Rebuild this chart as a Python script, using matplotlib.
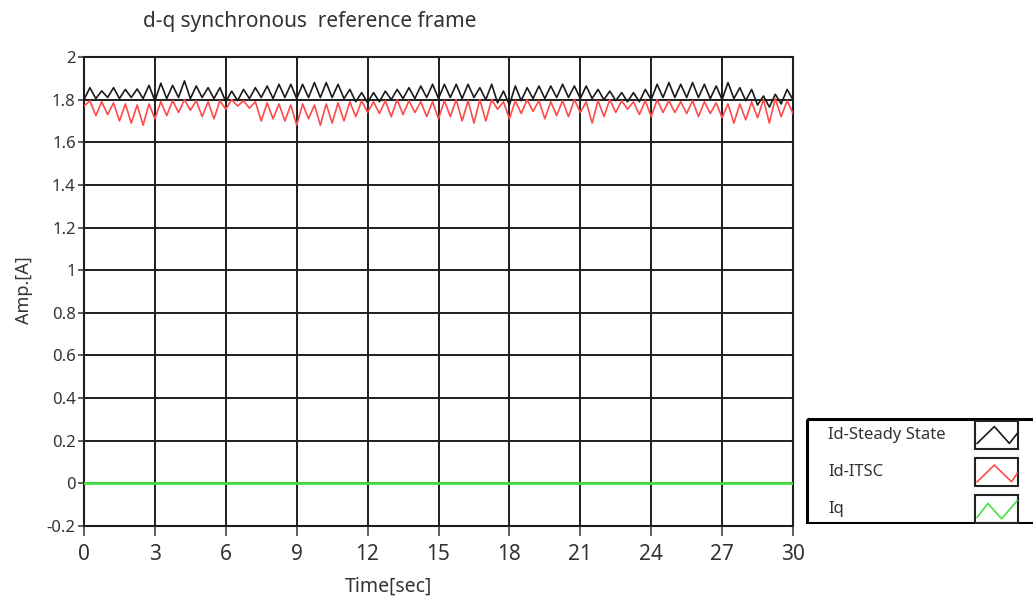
import numpy as np
import matplotlib
matplotlib.use('Agg')
import matplotlib.pyplot as plt
from matplotlib import font_manager
from matplotlib.patches import Rectangle

# Values (Amp.[A]), one sample every 0.25 s
# troughs at t = 0, 0.5, 1.0 ... ; peaks at t = 0.25, 0.75, ...
id_ss_trough = [1.80, 1.805, 1.81, 1.805, 1.81, 1.805, 1.795, 1.805, 1.81, 1.805, 1.81,
                1.805, 1.79, 1.795, 1.805, 1.81, 1.805, 1.81, 1.805, 1.81, 1.81,
                1.81, 1.805, 1.79, 1.785, 1.79, 1.80, 1.805, 1.805, 1.81, 1.805,
                1.81, 1.805, 1.81, 1.80, 1.785, 1.775, 1.795, 1.805, 1.805, 1.81,
                1.81, 1.805, 1.805, 1.80, 1.795, 1.79, 1.79, 1.80, 1.81, 1.81,
                1.81, 1.81, 1.805, 1.80, 1.805, 1.795, 1.775, 1.765, 1.78, 1.80]
id_ss_peak = [1.856, 1.841, 1.856, 1.848, 1.85, 1.867, 1.877, 1.867, 1.888, 1.864,
              1.856, 1.856, 1.84, 1.848, 1.856, 1.864, 1.872, 1.872, 1.872, 1.88,
              1.88, 1.872, 1.848, 1.833, 1.833, 1.84, 1.848, 1.856, 1.864, 1.872,
              1.872, 1.872, 1.872, 1.856, 1.872, 1.84, 1.864, 1.856, 1.864, 1.864,
              1.872, 1.864, 1.864, 1.848, 1.84, 1.833, 1.833, 1.848, 1.872, 1.88,
              1.872, 1.88, 1.872, 1.864, 1.88, 1.856, 1.848, 1.817, 1.825, 1.848]
id_itsc_trough = [1.77, 1.725, 1.73, 1.70, 1.69, 1.68, 1.71, 1.725, 1.74, 1.75, 1.72,
                  1.71, 1.755, 1.77, 1.76, 1.70, 1.71, 1.70, 1.68, 1.71, 1.68,
                  1.69, 1.70, 1.72, 1.74, 1.735, 1.72, 1.73, 1.74, 1.72, 1.71,
                  1.72, 1.70, 1.69, 1.70, 1.755, 1.71, 1.735, 1.745, 1.71, 1.725,
                  1.72, 1.74, 1.69, 1.72, 1.74, 1.755, 1.73, 1.72, 1.74, 1.74,
                  1.735, 1.72, 1.735, 1.715, 1.69, 1.705, 1.715, 1.69, 1.72, 1.735]
id_itsc_peak = [1.795, 1.79, 1.785, 1.78, 1.775, 1.78, 1.79, 1.795, 1.80, 1.795,
                1.79, 1.795, 1.80, 1.795, 1.79, 1.785, 1.78, 1.775, 1.78, 1.775,
                1.78, 1.785, 1.79, 1.795, 1.79, 1.795, 1.80, 1.795, 1.79, 1.79,
                1.795, 1.80, 1.795, 1.80, 1.80, 1.79, 1.795, 1.80, 1.795, 1.79,
                1.795, 1.80, 1.79, 1.795, 1.80, 1.795, 1.79, 1.795, 1.80, 1.795,
                1.79, 1.795, 1.79, 1.785, 1.78, 1.78, 1.79, 1.80, 1.805, 1.795]
iq_time = [0, 30]
iq = [0.0, 0.0]

x_ticks = [0, 3, 6, 9, 12, 15, 18, 21, 24, 27, 30]
y_ticks = [2, 1.8, 1.6, 1.4, 1.2, 1, 0.8, 0.6, 0.4, 0.2, 0, -0.2]
y_tick_labels = ['2', '1.8', '1.6', '1.4', '1.2', '1', '0.8', '0.6', '0.4', '0.2', '0', '-0.2']
legend_labels = ['Id-Steady State', 'Id-ITSC', 'Iq']


def interleave(troughs, peaks):
    out = []
    for i in range(len(peaks)):
        out += [troughs[i], peaks[i]]
    out.append(troughs[-1])
    return np.array(out)


id_ss = interleave(id_ss_trough, id_ss_peak)
id_itsc = interleave(id_itsc_trough, id_itsc_peak)
time = np.arange(len(id_ss)) * 0.25

names = {f.name for f in font_manager.fontManager.ttflist}
txt_font = 'Noto Sans' if 'Noto Sans' in names else 'DejaVu Sans'
num_font = 'Liberation Sans Narrow' if 'Liberation Sans Narrow' in names else txt_font

c_black = '#1a1a1a'
c_red = '#ff4a4a'
c_green = '#44e044'
c_text = '#333333'

fig = plt.figure(figsize=(10.33, 5.99), dpi=100)
ax = fig.add_axes([84/1033, 1-526/599, 709/1033, 469/599])

ax.plot(time, id_ss, color=c_black, lw=1.2, zorder=4, solid_joinstyle='round')
ax.plot(time, id_itsc, color=c_red, lw=1.2, zorder=3, solid_joinstyle='round')
ax.plot(iq_time, iq, color=c_green, lw=2, zorder=3)

ax.set_xlim(0, 30)
ax.set_ylim(-0.2, 2)
ax.set_xticks(x_ticks)
ax.set_xticklabels([str(v) for v in x_ticks], fontsize=15, family=num_font, color=c_text)
ax.set_yticks(y_ticks)
ax.set_yticklabels(y_tick_labels, fontsize=12, family=txt_font, color=c_text)
ax.grid(True, color='#1e1e1e', lw=1.4, zorder=1)
ax.set_axisbelow(True)
for s in ax.spines.values():
    s.set_color('#1e1e1e')
    s.set_linewidth(1.5)
ax.tick_params(axis='y', length=4, width=1.2, color='#444444', pad=2)
ax.tick_params(axis='x', length=7, width=1.2, color='#444444', pad=6)

fig.text(388/1033, 1-587/599, 'Time[sec]', fontsize=14, family=txt_font,
         color=c_text, ha='center', va='center')
fig.text(24/1033, 1-290/599, 'Amp.[A]', fontsize=13, family=txt_font,
         color=c_text, ha='center', va='center', rotation=90)
fig.text(143/1033, 1-22/599, 'd-q synchronous  reference frame', fontsize=15,
         family=txt_font, color=c_text, va='center', ha='left')

# legend panel
lg = fig.add_axes([806/1033, 1-524/599, 230/1033, 106/599])
lg.set_xlim(0, 230)
lg.set_ylim(106, 0)
lg.axis('off')
lg.add_patch(Rectangle((1, 1), 240, 104, fill=False, ec='black', lw=2.2))
colors = [c_black, c_red, c_green]
row_y = [17, 54, 91]
zig = [([0.05, 0.45, 0.8, 0.98], [0.8, 0.2, 0.8, 0.45]),
       ([0.05, 0.45, 0.85, 0.98], [0.85, 0.25, 0.85, 0.55]),
       ([0.05, 0.3, 0.62, 0.98], [0.8, 0.3, 0.85, 0.2])]
for lab, col, yc, (zx, zy) in zip(legend_labels, colors, row_y, zig):
    lg.text(22, yc, lab, fontsize=12, family=txt_font, color=c_text, va='center', ha='left')
    bx, bw, bh = 169, 43, 28
    by = yc - bh/2
    lg.add_patch(Rectangle((bx, by), bw, bh, fill=False, ec='#222222', lw=1.5))
    lg.plot([bx + v*bw for v in zx], [by + v*bh for v in zy], color=col, lw=1.2)

fig.savefig('out.png', dpi=100)
